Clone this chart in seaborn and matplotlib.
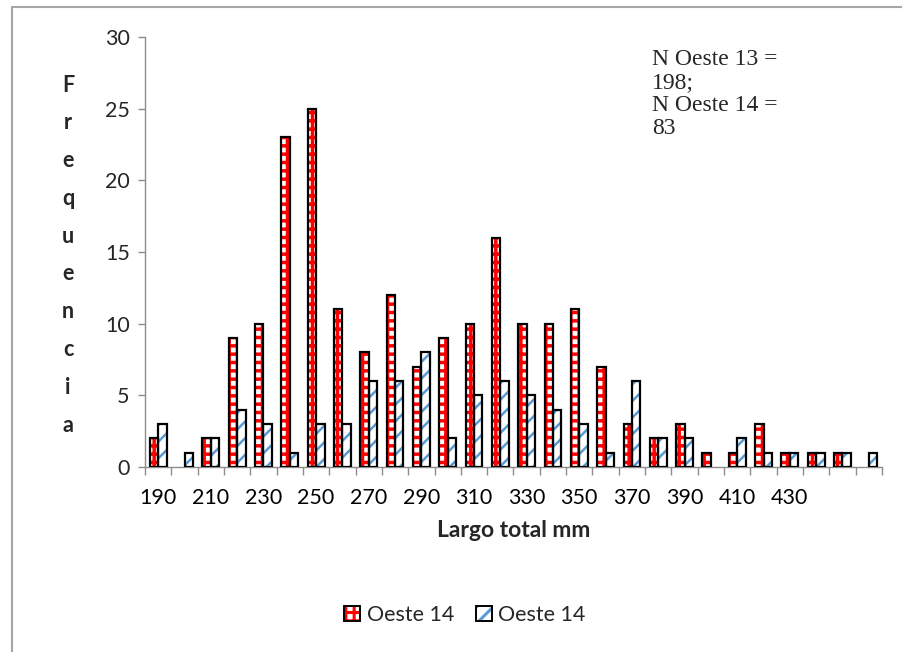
import numpy as np
import pandas as pd
import matplotlib
matplotlib.use('Agg')
import matplotlib.pyplot as plt
import seaborn as sns
from matplotlib.patches import Rectangle
from matplotlib.lines import Line2D
from matplotlib.legend_handler import HandlerTuple

# clases de largo total (mm)
largo = [190, 200, 210, 220, 230, 240, 250, 260, 270, 280, 290, 300, 310, 320,
         330, 340, 350, 360, 370, 380, 390, 400, 410, 420, 430, 440, 450, 460]
oeste_13 = [2, 0, 2, 9, 10, 23, 25, 11, 8, 12, 7, 9, 10, 16,
            10, 10, 11, 7, 3, 2, 3, 1, 1, 3, 1, 1, 1, 0]
oeste_14 = [3, 1, 2, 4, 3, 1, 3, 3, 6, 6, 8, 2, 5, 6,
            5, 4, 3, 1, 6, 2, 2, 0, 2, 1, 1, 1, 1, 1]
x_labels = ['190', '', '210', '', '230', '', '250', '', '270', '', '290', '', '310', '',
            '330', '', '350', '', '370', '', '390', '', '410', '', '430', '', '', '']
y_ticks = [0, 5, 10, 15, 20, 25, 30]
legend_labels = ['Oeste 14', 'Oeste 14']
note = 'N Oeste 13 =\n198;\nN Oeste 14 =\n83'

df = pd.DataFrame({
    'Largo': largo * 2,
    'Frecuencia': oeste_13 + oeste_14,
    'Serie': ['Oeste 13'] * len(largo) + ['Oeste 14'] * len(largo),
})

sns.set_theme(style='white')
plt.rcParams['font.family'] = ['Lato', 'DejaVu Sans']
plt.rcParams['hatch.linewidth'] = 2.2

gray = '#8c8c8c'
red = '#ff0000'
blue = '#5b9bd5'
fs = 15.5

fig = plt.figure(figsize=(9.03, 6.52), dpi=100)
ax = fig.add_axes([0.1606, 0.2837, 0.8161, 0.6596])

sns.barplot(data=df, x='Largo', y='Frecuencia', hue='Serie', order=largo,
            palette=[red, blue], width=0.64, gap=0, saturation=1,
            legend=False, ax=ax)

# hatches like the Excel fills, then a black outline on top
styles = [(red, '++', 2.5), (blue, '//', 1.8)]
for cont, (col, hatch, hlw) in zip(ax.containers, styles):
    for bar in cont:
        bar.set_facecolor('white')
        bar.set_edgecolor(col)
        bar.set_hatch(hatch)
        bar.set_linewidth(0)
        if hasattr(bar, 'set_hatch_linewidth'):
            bar.set_hatch_linewidth(hlw)
        if bar.get_height() > 0:
            ax.add_patch(Rectangle(bar.get_xy(), bar.get_width(), bar.get_height(),
                                   fill=False, edgecolor='black', linewidth=1.6, zorder=3))

ax.set_xlim(-0.5, len(largo) - 0.5)
ax.set_ylim(0, 30)
ax.set_yticks(y_ticks)
ax.set_xticks(range(len(largo)))
ax.set_xticklabels(x_labels)
ax.set_xticks(np.arange(-0.5, len(largo)), minor=True)
ax.tick_params(axis='x', which='major', length=0, labelsize=fs, pad=15, colors='black')
ax.tick_params(axis='x', which='minor', length=6, width=1, color=gray, bottom=True)
ax.tick_params(axis='y', length=5, width=1, color=gray, left=True, labelsize=fs, pad=6)
for side in ['top', 'right']:
    ax.spines[side].set_visible(False)
for side in ['left', 'bottom']:
    ax.spines[side].set_color(gray)
    ax.spines[side].set_linewidth(1)

ax.set_xlabel('Largo total mm', fontsize=16.5, fontweight='bold', labelpad=9)
ax.set_ylabel('')

# vertical letter-by-letter label as in the original
for i, ch in enumerate('Frequencia'):
    fig.text(68 / 903, 1 - (85 + i * 37.8) / 652, ch, ha='center', va='center',
             fontsize=fs, fontweight='bold')

fig.text(652 / 903, 1 - 49 / 652, note, ha='left', va='top', fontsize=17,
         family=['Liberation Serif', 'DejaVu Serif'], linespacing=1.12)

handles = []
for col, hatch, hlw in styles:
    hp = Rectangle((0, 0), 1, 1, facecolor='white', edgecolor=col, hatch=hatch, linewidth=0)
    op = Rectangle((0, 0), 1, 1, fill=False, edgecolor='black', linewidth=1.4)
    handles.append((hp, op))
leg = fig.legend(handles, legend_labels, loc='center', bbox_to_anchor=(465 / 903, 1 - 615 / 652),
                 ncol=2, frameon=False, fontsize=fs, handlelength=0.75, handleheight=0.75,
                 handletextpad=0.3, columnspacing=1.0,
                 handler_map={tuple: HandlerTuple(ndivide=1)})

# chart-area border: only top and left edges are visible in the original
fig.add_artist(Line2D([12 / 903, 12 / 903], [0, 1 - 7 / 652], transform=fig.transFigure,
                      color='#a6a6a6', linewidth=1.5))
fig.add_artist(Line2D([12 / 903, 1], [1 - 7 / 652, 1 - 7 / 652], transform=fig.transFigure,
                      color='#a6a6a6', linewidth=1.5))

fig.savefig('out.png', dpi=100)
